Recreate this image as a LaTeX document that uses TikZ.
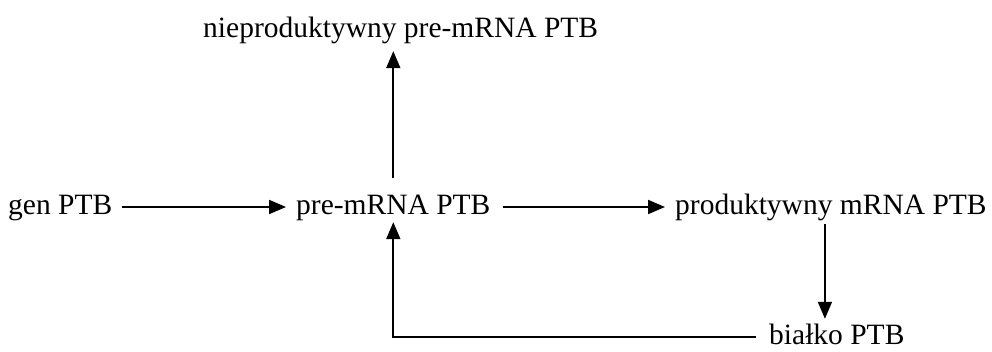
\documentclass[tikz,border=0pt]{standalone}
\usepackage{fontspec}
\setmainfont{Liberation Serif}
\usetikzlibrary{arrows.meta}
\begin{document}
\begin{tikzpicture}[x=1pt,y=1pt,
  lbl/.style={inner sep=0pt,anchor=base west,text height=20pt,text depth=6pt,font=\fontsize{29.5}{32}\selectfont},
  arr/.style={line width=1.8pt,-{Triangle[length=17pt,width=14pt]}}]
\useasboundingbox (0,0) rectangle (992,351);
\node[lbl] (niep) at (203,313) {nieproduktywny pre-mRNA PTB};
\node[lbl] (gen) at (8,137) {gen PTB};
\node[lbl] (pre) at (296,137) {pre-mRNA PTB};
\node[lbl] (prod) at (675,137) {produktywny mRNA PTB};
\node[lbl] (bialko) at (769,7) {białko PTB};
\draw[arr,shorten <=10pt,shorten >=10pt] (gen.east) -- (pre.west);
\draw[arr,shorten <=12pt,shorten >=10pt] (pre.east) -- (prod.west);
\draw[arr,shorten <=16pt,shorten >=7pt] (pre.north) -- (pre.north |- niep.south);
\draw[arr,shorten <=4pt,shorten >=5pt] ([xshift=-6pt]prod.south) -- ([xshift=-6pt]prod.south |- bialko.north);
\draw[arr,shorten <=13pt,shorten >=2pt] (bialko.west) -| (pre.south);
\end{tikzpicture}
\end{document}
